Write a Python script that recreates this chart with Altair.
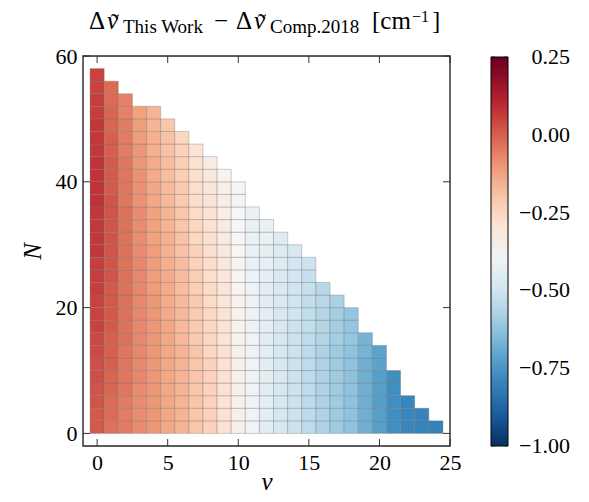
import altair as alt
import pandas as pd

SERIF = "Liberation Serif"

# ---- data -------------------------------------------------------------
v_levels = list(range(25))
n_step = 2  # every cell spans two units of N, starting at N = 0
x_ticks = [0, 5, 10, 15, 20, 25]
y_ticks = [0, 20, 40, 60]
cbar_ticks = [-1.0, -0.75, -0.5, -0.25, 0.0, 0.25]

# ColorBrewer RdBu (blue end first), spread evenly over [-1, 0.25]
rdbu_colors = ["#053061", "#2166ac", "#4393c3", "#92c5de", "#d1e5f0", "#f7f7f7",
               "#fddbc7", "#f4a582", "#d6604d", "#b2182b", "#67001f"]
rdbu_stops = [-1.0, -0.875, -0.75, -0.625, -0.5, -0.375,
              -0.25, -0.125, 0.0, 0.125, 0.25]

# value of each cell, per v, listed from N = 0 upwards
delta_by_v = [
    [0.01, 0.01, 0.02, 0.02, 0.03, 0.03, 0.04, 0.04, 0.05, 0.05,
     0.05, 0.06, 0.06, 0.06, 0.07, 0.07, 0.07, 0.07, 0.08, 0.08,
     0.08, 0.08, 0.07, 0.07, 0.07, 0.06, 0.06, 0.05, 0.05],
    [-0.03, -0.02, -0.02, -0.01, -0.01, 0.00, 0.00, 0.00, 0.01, 0.01,
     0.01, 0.01, 0.02, 0.02, 0.02, 0.02, 0.02, 0.02, 0.02, 0.01,
     0.01, 0.01, 0.00, 0.00, -0.01, -0.01, -0.02, -0.02],
    [-0.05, -0.05, -0.05, -0.04, -0.04, -0.04, -0.04, -0.03, -0.03, -0.03,
     -0.03, -0.03, -0.03, -0.03, -0.03, -0.03, -0.03, -0.03, -0.04, -0.04,
     -0.04, -0.04, -0.05, -0.05, -0.05, -0.06, -0.06],
    [-0.08, -0.08, -0.08, -0.08, -0.07, -0.07, -0.07, -0.07, -0.07, -0.07,
     -0.07, -0.07, -0.07, -0.07, -0.08, -0.08, -0.08, -0.08, -0.09, -0.09,
     -0.09, -0.10, -0.10, -0.11, -0.11, -0.12],
    [-0.10, -0.10, -0.10, -0.10, -0.10, -0.10, -0.10, -0.10, -0.10, -0.10,
     -0.10, -0.11, -0.11, -0.11, -0.11, -0.12, -0.12, -0.12, -0.13, -0.13,
     -0.14, -0.14, -0.15, -0.15, -0.16, -0.16],
    [-0.13, -0.13, -0.13, -0.13, -0.13, -0.13, -0.13, -0.13, -0.13, -0.14,
     -0.14, -0.14, -0.14, -0.15, -0.15, -0.15, -0.16, -0.16, -0.17, -0.17,
     -0.18, -0.18, -0.19, -0.19, -0.20],
    [-0.16, -0.16, -0.16, -0.16, -0.16, -0.16, -0.16, -0.17, -0.17, -0.17,
     -0.17, -0.18, -0.18, -0.18, -0.19, -0.19, -0.20, -0.20, -0.21, -0.21,
     -0.22, -0.22, -0.23, -0.24],
    [-0.20, -0.20, -0.20, -0.20, -0.20, -0.20, -0.20, -0.21, -0.21, -0.21,
     -0.21, -0.22, -0.22, -0.23, -0.23, -0.24, -0.24, -0.25, -0.26, -0.26,
     -0.27, -0.28, -0.29],
    [-0.23, -0.23, -0.23, -0.23, -0.23, -0.23, -0.24, -0.24, -0.24, -0.24,
     -0.25, -0.25, -0.26, -0.26, -0.27, -0.27, -0.28, -0.28, -0.29, -0.30,
     -0.31, -0.32],
    [-0.28, -0.28, -0.28, -0.28, -0.28, -0.28, -0.28, -0.29, -0.29, -0.29,
     -0.30, -0.30, -0.30, -0.31, -0.31, -0.32, -0.32, -0.33, -0.33, -0.34,
     -0.35],
    [-0.34, -0.34, -0.34, -0.34, -0.34, -0.34, -0.34, -0.35, -0.35, -0.35,
     -0.35, -0.36, -0.36, -0.36, -0.37, -0.37, -0.38, -0.38, -0.39, -0.39],
    [-0.40, -0.40, -0.40, -0.40, -0.40, -0.40, -0.40, -0.40, -0.41, -0.41,
     -0.41, -0.41, -0.41, -0.42, -0.42, -0.42, -0.42, -0.42],
    [-0.44, -0.44, -0.44, -0.44, -0.44, -0.44, -0.44, -0.44, -0.44, -0.44,
     -0.44, -0.44, -0.43, -0.43, -0.43, -0.42, -0.42],
    [-0.48, -0.48, -0.48, -0.48, -0.48, -0.48, -0.48, -0.48, -0.48, -0.48,
     -0.47, -0.47, -0.47, -0.46, -0.46, -0.45],
    [-0.51, -0.51, -0.51, -0.51, -0.51, -0.51, -0.51, -0.51, -0.51, -0.50,
     -0.50, -0.50, -0.49, -0.49, -0.48],
    [-0.54, -0.54, -0.54, -0.54, -0.54, -0.54, -0.54, -0.54, -0.53, -0.53,
     -0.53, -0.52, -0.52, -0.51],
    [-0.57, -0.57, -0.57, -0.57, -0.57, -0.57, -0.57, -0.56, -0.56, -0.56,
     -0.55, -0.55],
    [-0.60, -0.60, -0.60, -0.60, -0.60, -0.60, -0.60, -0.59, -0.59, -0.59,
     -0.58],
    [-0.63, -0.63, -0.63, -0.63, -0.63, -0.63, -0.63, -0.62, -0.62, -0.62],
    [-0.68, -0.68, -0.68, -0.68, -0.68, -0.68, -0.67, -0.67],
    [-0.72, -0.72, -0.72, -0.72, -0.72, -0.71, -0.71],
    [-0.76, -0.76, -0.76, -0.76, -0.76],
    [-0.785, -0.785, -0.785],
    [-0.795, -0.795],
    [-0.80],
]

# ---- table -------------------------------------------------------------
rows = []
for v, col in zip(v_levels, delta_by_v):
    for i, val in enumerate(col):
        n = i * n_step
        rows.append({"v_lo": v - 0.5, "v_hi": v + 0.5,
                     "n_lo": n, "n_hi": n + n_step, "delta": val})
df = pd.DataFrame(rows)

W, H = 367, 390
OX, OY = 83, 56  # plot origin on the page
xs = alt.Scale(domain=[-1, 25], nice=False, zero=False)
ys = alt.Scale(domain=[-2, 60], nice=False, zero=False)
CB_X0, CB_X1 = 408, 425          # colour bar, relative to the plot origin
CB_TOP, CB_BOT = 1, 390
cs = alt.Scale(domain=[-1, 0.25], range=[CB_BOT, CB_TOP], nice=False, zero=False)

common_axis = dict(labelFont=SERIF, labelFontSize=22, labelColor="black",
                   ticks=False, domain=False, grid=False, labelFlush=False,
                   labelOverlap=False, format="d",
                   titleFont=SERIF, titleFontSize=25, titleFontStyle="italic",
                   titleFontWeight="normal", titleColor="black")
x_axis = alt.Axis(values=x_ticks, title="v", labelPadding=6,
                  titleBaseline="alphabetic", titleY=43, **common_axis)
y_axis = alt.Axis(values=y_ticks, title="N", labelPadding=6, titlePadding=10,
                  **common_axis)

heat = alt.Chart(df).mark_rect(
    stroke="#6f6f6f", strokeWidth=0.6, strokeOpacity=0.55
).encode(
    x=alt.X("v_lo:Q", scale=xs, axis=x_axis),
    x2="v_hi:Q",
    y=alt.Y("n_lo:Q", scale=ys, axis=y_axis),
    y2="n_hi:Q",
    color=alt.Color(
        "delta:Q",
        scale=alt.Scale(type="linear", domain=rdbu_stops, range=rdbu_colors,
                        interpolate="rgb", clamp=True),
        legend=alt.Legend(
            title=None, orient="none", legendX=CB_X0, legendY=CB_TOP,
            direction="vertical", gradientLength=CB_BOT - CB_TOP,
            gradientThickness=CB_X1 - CB_X0,
            values=cbar_ticks, labelOpacity=0, labelFontSize=1,
            gradientStrokeColor="black", gradientStrokeWidth=1,
        ),
    ),
)

TICK = 7
xt = pd.DataFrame({"t": x_ticks})
yt = pd.DataFrame({"t": y_ticks})
tick_style = dict(color="#333333", strokeWidth=1)
x_bottom = alt.Chart(xt).mark_rule(**tick_style).encode(
    x=alt.X("t:Q", scale=xs, axis=x_axis), y=alt.value(H), y2=alt.value(H - TICK))
x_top = alt.Chart(xt).mark_rule(**tick_style).encode(
    x=alt.X("t:Q", scale=xs, axis=x_axis), y=alt.value(0), y2=alt.value(TICK))
y_left = alt.Chart(yt).mark_rule(**tick_style).encode(
    y=alt.Y("t:Q", scale=ys, axis=y_axis), x=alt.value(0), x2=alt.value(TICK))
y_right = alt.Chart(yt).mark_rule(**tick_style).encode(
    y=alt.Y("t:Q", scale=ys, axis=y_axis), x=alt.value(W), x2=alt.value(W - TICK))

frame = alt.Chart(pd.DataFrame({"f": [0]})).mark_rect(
    fill="transparent", stroke="#2b2b2b", strokeWidth=1.4
).encode(x=alt.value(0), x2=alt.value(W), y=alt.value(0), y2=alt.value(H))

# ---- title built from pieces (main text, subscripts, superscript) -------
title_pieces = [
    # text, x, baseline y, size, style, align
    ("Δ", 89, 29, 25, "normal", "left"),
    ("ν", 107, 29, 25, "italic", "left"),
    ("˜", 115, 31, 25, "normal", "center"),
    ("This Work", 123, 33, 19, "normal", "left"),
    ("−", 214, 29, 25, "normal", "left"),
    ("Δ", 236, 29, 25, "normal", "left"),
    ("ν", 254, 29, 25, "italic", "left"),
    ("˜", 262, 31, 25, "normal", "center"),
    ("Comp.2018", 270, 33, 19, "normal", "left"),
    ("[cm", 372, 29, 25, "normal", "left"),
    ("−1", 412, 22, 16, "normal", "left"),
    ("]", 432, 29, 25, "normal", "left"),
]
title_layers = []
for txt, px, py, fs, style, al in title_pieces:
    title_layers.append(
        alt.Chart(pd.DataFrame({"t": [txt]})).mark_text(
            align=al, baseline="alphabetic", font=SERIF, fontSize=fs,
            fontStyle=style, color="black",
        ).encode(text="t:N", x=alt.value(px - OX), y=alt.value(py - OY))
    )

main = alt.layer(heat, x_bottom, x_top, y_left, y_right, frame, *title_layers)

# ---- colour-bar labels and tick marks on their own y scale -------------
cbt = pd.DataFrame({"c": cbar_ticks})
cb_labels = alt.Chart(cbt).mark_text(
    align="right", baseline="middle", font=SERIF, fontSize=22, color="black"
).encode(
    y=alt.Y("c:Q", scale=cs, axis=None),
    x=alt.value(487),
    text=alt.Text("c:Q", format=".2f"),
)
cb_tick_l = alt.Chart(cbt).mark_rule(color="#7a7a7a", strokeWidth=1).encode(
    y=alt.Y("c:Q", scale=cs, axis=None), x=alt.value(CB_X0), x2=alt.value(CB_X0 + 4))
cb_tick_r = alt.Chart(cbt).mark_rule(color="#7a7a7a", strokeWidth=1).encode(
    y=alt.Y("c:Q", scale=cs, axis=None), x=alt.value(CB_X1 - 4), x2=alt.value(CB_X1))
cbar = alt.layer(cb_tick_l, cb_tick_r, cb_labels)

chart = alt.layer(main, cbar).resolve_scale(y="independent").properties(
    width=W, height=H,
    autosize=alt.AutoSizeParams(type="none"),
    padding={"left": 75, "top": 48, "right": 131, "bottom": 48},
).configure_view(
    stroke="#2b2b2b", strokeWidth=1.4
).configure(background="white")

chart.save("out.html", embed_options={"renderer": "svg", "actions": False})
